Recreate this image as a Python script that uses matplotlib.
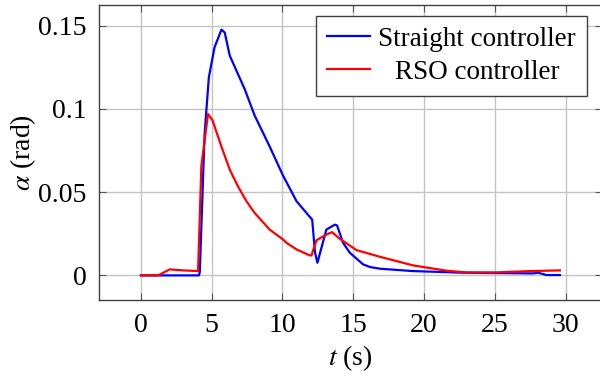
import numpy as np
import matplotlib
matplotlib.use("Agg")
import matplotlib.pyplot as plt

plt.rcParams['font.family'] = ['Liberation Serif', 'DejaVu Serif']
plt.rcParams['mathtext.fontset'] = 'stix'

# Straight controller
t_straight = [0, 1, 2, 3, 4.1, 4.16, 4.5, 4.8, 5.2, 5.69, 5.92, 6.28, 7.33, 8.04, 9.1,
              10.04, 11.0, 12.1, 12.3, 12.47, 13.1, 13.7, 13.86, 14.28, 14.76, 15.7,
              16.2, 16.9, 19.2, 22.8, 27.7, 28.06, 28.66, 29.6]
a_straight = [0, 0, 0, 0, 0, 0.002, 0.085, 0.119, 0.137, 0.1477, 0.146, 0.132, 0.112,
              0.096, 0.0774, 0.060, 0.0445, 0.0335, 0.0137, 0.0076, 0.0275, 0.0305,
              0.030, 0.0196, 0.0136, 0.0066, 0.0050, 0.0040, 0.0026, 0.0016, 0.0012,
              0.0016, 0.0002, 0.0002]

# RSO controller
t_rso = [0, 1.2, 1.5, 2.03, 3.0, 4.04, 4.27, 4.74, 5.05, 5.69, 6.28, 6.86, 7.46, 8.04,
         9.1, 10.04, 10.28, 11.0, 11.93, 12.05, 12.4, 13.1, 13.5, 14.05, 15.23, 16.88,
         19.23, 21.6, 23.0, 25.1, 27.5, 29.6]
a_rso = [0, 0, 0.0012, 0.0036, 0.003, 0.0026, 0.0655, 0.097, 0.0934, 0.0774, 0.0635,
         0.0535, 0.0445, 0.0375, 0.0275, 0.0216, 0.0196, 0.0156, 0.012, 0.012, 0.0211,
         0.0245, 0.026, 0.022, 0.0152, 0.0112, 0.006, 0.0028, 0.0018, 0.0018, 0.0026,
         0.003]

xticks = [0, 5, 10, 15, 20, 25, 30]
yticks = [0, 0.05, 0.1, 0.15]
ytick_labels = ['0', '0.05', '0.1', '0.15']

fig = plt.figure(figsize=(6, 3.79), dpi=100)
ax = fig.add_axes([0.165, 0.2084, 0.838, 0.7784])

ax.plot(t_straight, a_straight, color='#0000ff', lw=1.6, label='Straight controller')
ax.plot(t_rso, a_rso, color='#ff0000', lw=1.6, label='RSO controller')

ax.set_xlim(-2.96, 32.56)
ax.set_ylim(-0.0148, 0.1625)
ax.set_xticks(xticks)
ax.set_yticks(yticks)
ax.set_yticklabels(ytick_labels)
ax.grid(True, color='#c4c4c4', lw=1.0)
ax.set_axisbelow(True)
ax.tick_params(direction='in', top=True, right=True, color='#555555', length=5,
               labelsize=20, pad=9)
for s in ax.spines.values():
    s.set_color('#404040')
    s.set_linewidth(1.0)

ax.set_xlabel(r'$t$ (s)', fontsize=20, labelpad=4)
ax.set_ylabel(r'$\alpha$ (rad)', fontsize=20, labelpad=0)

leg = ax.legend(loc='upper right', bbox_to_anchor=(0.970, 0.963), borderaxespad=0,
                fontsize=19.5, fancybox=False, edgecolor='#404040', framealpha=1,
                handlelength=1.6, handletextpad=0.3, borderpad=0.4, labelspacing=0.3)
leg.get_frame().set_linewidth(1.0)

# center the legend labels like the original
fig.canvas.draw()
r = fig.canvas.get_renderer()
texts = leg.get_texts()
widths = [tx.get_window_extent(r).width for tx in texts]
wmax = max(widths)
for tx, w in zip(texts, widths):
    tx.set_position(((wmax - w) / 2, 0))

fig.savefig('out.png', dpi=100)
